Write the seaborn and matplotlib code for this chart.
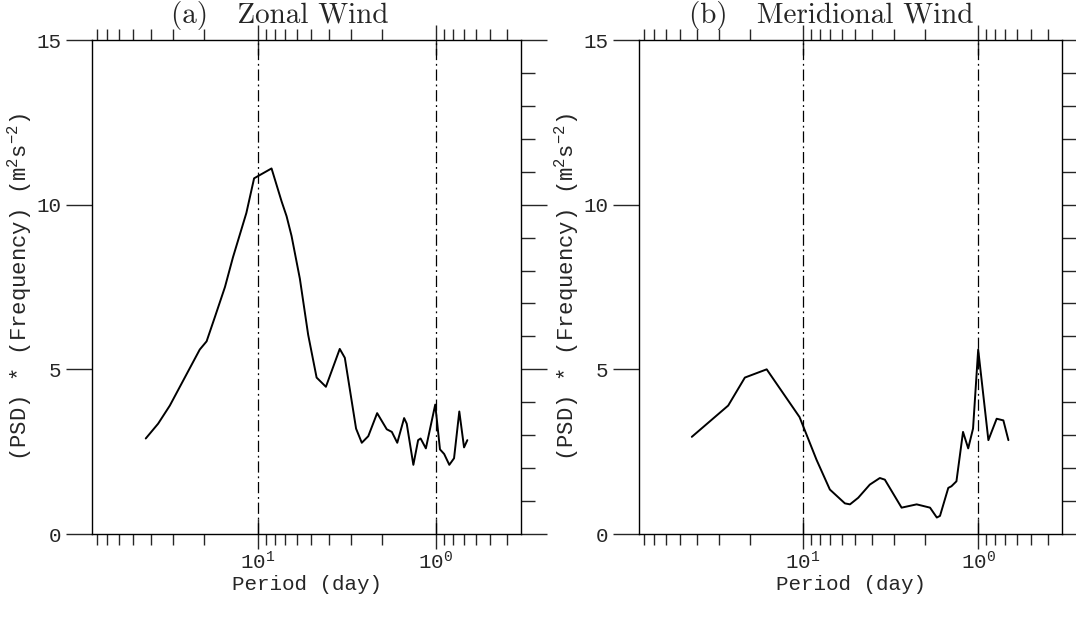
import numpy as np
import pandas as pd
import matplotlib
matplotlib.use("Agg")
import matplotlib.pyplot as plt
import seaborn as sns
from matplotlib.ticker import FixedLocator, NullFormatter, LogLocator

# ---- data ----
period_a = [42.6, 36.3, 31.2, 21.2, 19.4, 17.4, 15.3, 13.8, 11.6, 10.5, 8.38,
            7.36, 6.9, 6.47, 5.81, 5.22, 4.68, 4.15, 3.47, 3.25, 2.81, 2.61,
            2.40, 2.14, 1.89, 1.77, 1.65, 1.51, 1.46, 1.34, 1.26, 1.22, 1.14,
            1.01, 0.95, 0.90, 0.842, 0.792, 0.740, 0.696, 0.667]
psd_a = [2.9, 3.35, 3.9, 5.6, 5.85, 6.6, 7.5, 8.4, 9.75, 10.8, 11.1,
         10.1, 9.65, 9.05, 7.75, 6.05, 4.75, 4.47, 5.62, 5.35, 3.2, 2.77,
         2.97, 3.67, 3.18, 3.1, 2.77, 3.52, 3.35, 2.1, 2.85, 2.9, 2.6,
         3.93, 2.57, 2.43, 2.1, 2.3, 3.72, 2.63, 2.85]

period_b = [42.7, 26.5, 21.3, 16.0, 10.4, 8.32, 6.99, 5.74, 5.37, 4.82, 4.14,
            3.63, 3.40, 2.73, 2.24, 1.88, 1.72, 1.65, 1.48, 1.42, 1.33, 1.22,
            1.14, 1.07, 1.0, 0.875, 0.785, 0.719, 0.673]
psd_b = [2.95, 3.9, 4.75, 5.0, 3.55, 2.25, 1.35, 0.93, 0.9, 1.1, 1.5,
         1.7, 1.65, 0.8, 0.9, 0.8, 0.5, 0.55, 1.4, 1.45, 1.6, 3.1,
         2.6, 3.2, 5.6, 2.85, 3.5, 3.45, 2.85]

titles = ["(a)   Zonal Wind", "(b)   Meridional Wind"]
xlabel = "Period (day)"
ylabel = r"(PSD) * (Frequency) (m$^\mathregular{2}$s$^\mathregular{-2}$)"
xtick_vals = [10, 1]
xtick_labels = [r"$\mathregular{10^1}$", r"$\mathregular{10^0}$"]
ytick_vals = [0, 5, 10, 15]

sns.set_style("ticks")
plt.rcParams['font.family'] = ['Liberation Mono', 'DejaVu Sans Mono']
plt.rcParams['mathtext.default'] = 'regular'

W, H = 1076, 619
fig = plt.figure(figsize=(W / 100, H / 100), dpi=100)

def rect(x0, x1, y0, y1):
    return [x0 / W, 1 - y1 / H, (x1 - x0) / W, (y1 - y0) / H]

ax_a = fig.add_axes(rect(92, 521, 40, 534))
ax_b = fig.add_axes(rect(639, 1062, 40, 534))
title_x = [280, 831]

for ax, per, val, title, tx in [(ax_a, period_a, psd_a, titles[0], title_x[0]),
                                (ax_b, period_b, psd_b, titles[1], title_x[1])]:
    df = pd.DataFrame({"period": per, "psd": val})
    sns.lineplot(data=df, x="period", y="psd", ax=ax, color="black",
                 linewidth=1.4, sort=False, estimator=None)
    ax.set_xscale("log")
    ax.set_xlim(85.33, 1 / 3)
    ax.set_ylim(0, 15)
    for xv in xtick_vals:
        ax.axvline(xv, color="black", linewidth=0.9,
                   linestyle=(0, (9, 3, 1.5, 3)))
    ax.xaxis.set_major_locator(FixedLocator(xtick_vals))
    ax.set_xticklabels(xtick_labels)
    ax.xaxis.set_minor_locator(LogLocator(base=10, subs=np.arange(2, 10)))
    ax.xaxis.set_minor_formatter(NullFormatter())
    ax.yaxis.set_major_locator(FixedLocator(ytick_vals))
    ax.yaxis.set_minor_locator(FixedLocator(np.arange(0, 16, 1)))
    ax.tick_params(axis='x', which='major', direction='inout', length=22,
                   width=1.0, top=True, bottom=True, labelsize=15, pad=1)
    ax.tick_params(axis='x', which='minor', direction='out', length=8,
                   width=1.0, top=True, bottom=True)
    ax.tick_params(axis='y', which='major', direction='out', length=19,
                   width=1.0, left=True, right=True, labelsize=15, pad=3)
    ax.tick_params(axis='y', which='minor', direction='out', length=10,
                   width=1.0, left=False, right=True)
    for s in ax.spines.values():
        s.set_visible(True)
        s.set_linewidth(1.0)
        s.set_color("black")
    ax.set_xlabel(xlabel, fontsize=15, labelpad=1)
    ax.set_ylabel(ylabel, fontsize=16, labelpad=2)
    fig.text(tx / W, 1 - 16 / H, title, fontsize=21, family='cmr10',
             ha='center', va='center')

fig.savefig("out.png", dpi=100)
